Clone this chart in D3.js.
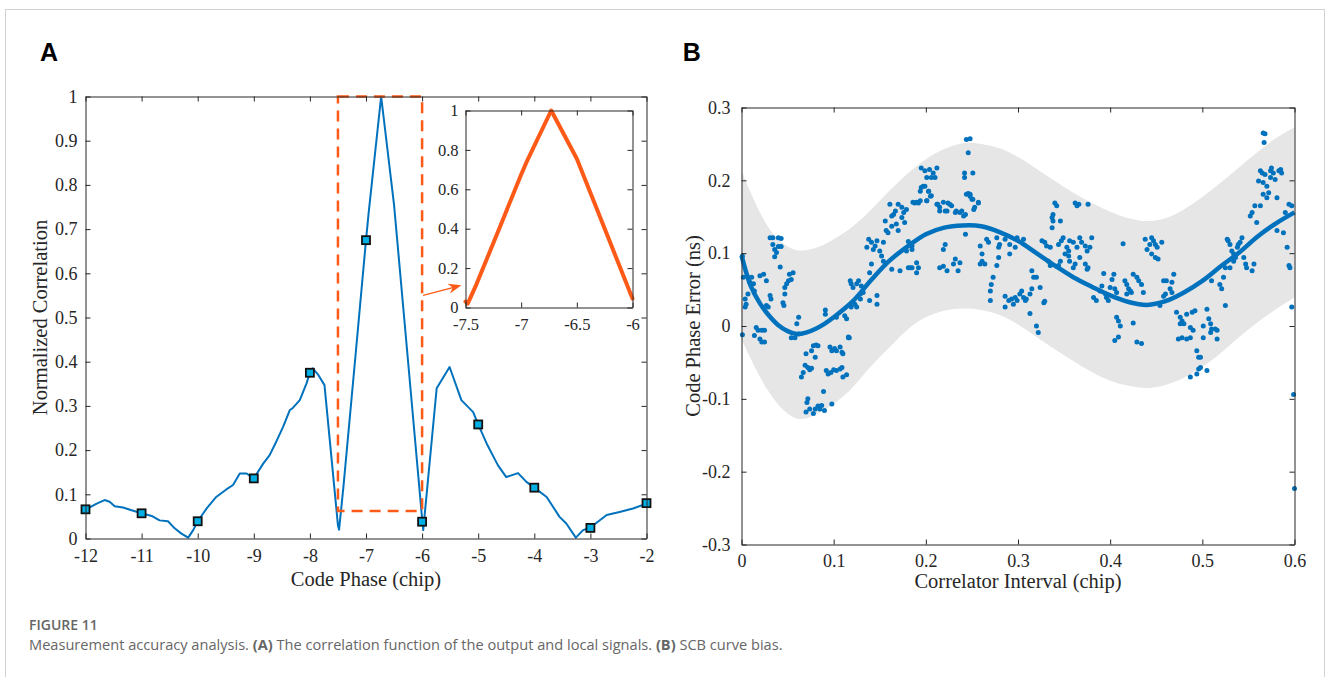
<!DOCTYPE html>
<html lang="en">
<head>
<meta charset="UTF-8">
<title>Figure 11 - Measurement accuracy analysis</title>
<script src="https://d3js.org/d3.v7.min.js"></script>
<style>
  body { margin: 0; background: #fff; }
  svg { display: block; }
  .axis path, .axis line { stroke: #262626; stroke-width: 1; }
  .title { font-family: "Liberation Serif", "Times New Roman", serif; font-size: 20.5px; fill: #262626; }
  .panel-tag { font-family: "Liberation Sans", Arial, sans-serif; font-size: 25px; font-weight: bold; fill: #000; }
  .caption { font-family: "Open Sans", "Noto Sans", sans-serif; fill: #666; }
</style>
</head>
<body>
<svg id="fig" width="1332" height="677"></svg>
<script>
  // ---- Panel A: correlation function (code phase in chips, normalized value)
  const corrPhase = [-12, -11.9, -11.8, -11.66, -11.57, -11.48, -11.33, -11.18, -11.0, -10.82, -10.68, -10.53,
    -10.41, -10.29, -10.17, -10.08, -10.0, -9.84, -9.67, -9.49, -9.37, -9.25, -9.13, -9.0, -8.83, -8.72,
    -8.6, -8.48, -8.36, -8.3, -8.18, -8.06, -8.0, -7.95, -7.85, -7.74, -7.5, -7.48, -7.4, -7.19, -7.0,
    -6.95, -6.73, -6.5, -6.32, -6.0, -5.98, -5.74, -5.51, -5.3, -5.09, -5.0, -4.85, -4.65, -4.5, -4.29,
    -4.14, -4.0, -3.78, -3.55, -3.43, -3.26, -3.13, -3.0, -2.71, -2.48, -2.24, -2.0];
  const corrValue = [0.066, 0.072, 0.079, 0.087, 0.083, 0.073, 0.070, 0.064, 0.057, 0.051, 0.041, 0.039,
    0.023, 0.011, 0.002, 0.019, 0.039, 0.068, 0.094, 0.111, 0.121, 0.147, 0.147, 0.136, 0.170, 0.188,
    0.219, 0.252, 0.290, 0.296, 0.313, 0.351, 0.375, 0.385, 0.370, 0.347, 0.030, 0.020, 0.120, 0.410, 0.675,
    0.740, 1.000, 0.755, 0.500, 0.045, 0.019, 0.340, 0.388, 0.313, 0.286, 0.258, 0.215, 0.166, 0.139, 0.148,
    0.128, 0.115, 0.094, 0.049, 0.034, 0.002, 0.019, 0.025, 0.053, 0.060, 0.068, 0.079];
  const markerPhase = [-12, -11, -10, -9, -8, -7, -6, -5, -4, -3, -2];
  const markerValue = [0.066, 0.057, 0.039, 0.136, 0.375, 0.675, 0.038, 0.258, 0.115, 0.024, 0.080];
  const zoomWindow = { x0: -7.5, x1: -6, y0: 0.0625, y1: 1 };
  const phaseTicks = [-12, -11, -10, -9, -8, -7, -6, -5, -4, -3, -2];
  const corrTicks = [0, 0.1, 0.2, 0.3, 0.4, 0.5, 0.6, 0.7, 0.8, 0.9, 1];
  const insetPhaseTicks = [-7.5, -7, -6.5, -6];
  const insetCorrTicks = [0, 0.2, 0.4, 0.6, 0.8, 1];

  // ---- Panel B: SCB curve bias (correlator interval in chips, error in ns)
  const fitX = [0, 0.01, 0.02, 0.03, 0.04, 0.05, 0.06, 0.07, 0.08, 0.09, 0.10, 0.12, 0.14, 0.16, 0.18, 0.20,
    0.22, 0.24, 0.26, 0.28, 0.30, 0.32, 0.34, 0.36, 0.38, 0.40, 0.42, 0.44, 0.46, 0.48, 0.50, 0.52, 0.54,
    0.56, 0.58, 0.60];
  const fitY = [0.097, 0.055, 0.031, 0.014, 0.001, -0.007, -0.011, -0.009, -0.004, 0.003, 0.012, 0.033,
    0.062, 0.089, 0.109, 0.126, 0.135, 0.138, 0.137, 0.129, 0.117, 0.100, 0.083, 0.067, 0.054, 0.042,
    0.033, 0.029, 0.034, 0.046, 0.062, 0.082, 0.101, 0.123, 0.141, 0.156];
  const bandUpper = [0.213, 0.183, 0.156, 0.134, 0.119, 0.109, 0.104, 0.104, 0.107, 0.112, 0.119, 0.136,
    0.159, 0.185, 0.209, 0.229, 0.243, 0.251, 0.250, 0.244, 0.232, 0.216, 0.199, 0.183, 0.169, 0.157,
    0.148, 0.144, 0.148, 0.160, 0.177, 0.197, 0.218, 0.239, 0.258, 0.273];
  const bandLower = [-0.018, -0.045, -0.070, -0.091, -0.108, -0.120, -0.127, -0.127, -0.122, -0.115,
    -0.107, -0.085, -0.056, -0.030, -0.005, 0.012, 0.021, 0.024, 0.022, 0.015, 0.002, -0.015, -0.032,
    -0.048, -0.063, -0.075, -0.082, -0.085, -0.081, -0.071, -0.056, -0.037, -0.015, 0.005, 0.023, 0.039];
  const intervalTicks = [0, 0.1, 0.2, 0.3, 0.4, 0.5, 0.6];
  const errorTicks = [-0.3, -0.2, -0.1, 0, 0.1, 0.2, 0.3];
  // measured samples [interval, error]
  const samples = [
    [0.001,0.096],[0.002,0.067],[0.007,0.067],[0.011,0.067],[0.009,0.060],[0.013,0.058],[0.020,0.069],[0.024,0.071],
    [0.027,0.062],[0.004,0.037],[0.005,0.030],[0.007,0.044],[0.014,0.048],[0.004,0.026],[0.001,-0.012],[0.031,0.042],
    [0.032,0.037],[0.029,0.026],[0.027,0.028],
    [0.031,0.121],[0.034,0.121],[0.040,0.121],[0.043,0.120],[0.034,0.112],[0.036,0.105],[0.040,0.109],[0.043,0.109],
    [0.038,0.101],[0.036,0.095],[0.042,0.081],
    [0.052,0.071],[0.054,0.064],[0.051,0.062],[0.049,0.058],[0.047,0.053],[0.056,0.073],[0.047,0.044],[0.045,0.032],[0.046,0.028],
    [0.016,-0.002],[0.018,-0.006],[0.022,-0.006],[0.025,-0.006],[0.014,-0.013],[0.020,-0.018],[0.022,-0.022],[0.025,-0.022],
    [0.062,0.012],[0.060,0.003],[0.054,-0.016],[0.058,-0.016],[0.062,-0.011],
    [0.070,-0.038],[0.078,-0.027],[0.081,-0.026],[0.083,-0.027],[0.080,-0.043],[0.076,-0.034],[0.065,-0.070],[0.067,-0.064],
    [0.069,-0.054],[0.072,-0.057],[0.074,-0.060],[0.076,-0.058],
    [0.071,-0.105],[0.072,-0.100],[0.070,-0.118],[0.074,-0.114],[0.078,-0.120],[0.080,-0.114],[0.083,-0.110],[0.085,-0.114],
    [0.087,-0.109],[0.090,-0.116],[0.089,-0.090],[0.098,-0.107],
    [0.097,-0.064],[0.094,-0.066],[0.092,-0.061],[0.100,-0.060],[0.103,-0.061],[0.107,-0.059],[0.109,-0.057],[0.110,-0.070],
    [0.114,-0.067],[0.116,-0.015],[0.117,-0.016],
    [0.096,-0.029],[0.098,-0.034],[0.101,-0.031],[0.103,-0.034],[0.107,-0.029],[0.109,-0.036],[0.110,-0.038],
    [0.091,0.022],[0.091,0.016],[0.103,0.012],[0.112,0.014],[0.114,0.010],[0.116,-0.016],
    [0.118,0.062],[0.119,0.058],[0.121,0.053],[0.125,0.058],[0.127,0.062],[0.129,0.044],[0.130,0.055],[0.132,0.046],
    [0.129,0.037],[0.123,0.030],[0.125,0.026],[0.119,0.026],[0.139,0.035],[0.147,0.042],[0.147,0.030],[0.139,0.073],
    [0.141,0.085],[0.152,0.096],[0.154,0.089],[0.136,0.108],[0.138,0.119],[0.141,0.115],[0.143,0.105],[0.147,0.117],
    [0.150,0.103],[0.145,0.110],[0.154,0.115],[0.163,0.078],[0.172,0.076],[0.181,0.080],[0.185,0.080],[0.190,0.087],
    [0.190,0.073],[0.181,0.116],[0.185,0.110],[0.185,0.105],[0.179,0.103],
    [0.156,0.144],[0.157,0.131],[0.159,0.128],[0.163,0.151],[0.165,0.153],[0.167,0.158],[0.170,0.167],[0.174,0.163],
    [0.176,0.156],[0.179,0.160],[0.161,0.167],[0.163,0.137],[0.168,0.140],[0.174,0.149],[0.177,0.142],[0.170,0.131],
    [0.188,0.169],[0.192,0.169],[0.195,0.190],[0.199,0.192],[0.203,0.185],[0.205,0.178],[0.201,0.172],[0.212,0.167],
    [0.215,0.163],[0.221,0.158],[0.224,0.169],[0.228,0.165],[0.232,0.156],[0.239,0.158],[0.243,0.153],[0.246,0.182],
    [0.248,0.178],[0.250,0.174],[0.252,0.160],[0.257,0.169],
    [0.195,0.217],[0.199,0.213],[0.204,0.215],[0.208,0.210],[0.212,0.217],[0.201,0.204],[0.206,0.204],[0.210,0.204],
    [0.197,0.192],[0.194,0.185],[0.203,0.185],[0.206,0.179],[0.244,0.256],[0.248,0.257],[0.246,0.238],[0.242,0.210],
    [0.251,0.210],[0.242,0.204],[0.244,0.181],[0.248,0.181],[0.251,0.174],[0.257,0.170],[0.253,0.163],[0.186,0.170],
    [0.190,0.170],[0.194,0.172],[0.201,0.172],[0.213,0.167],[0.219,0.170],[0.226,0.167],[0.233,0.158],[0.237,0.156],
    [0.241,0.151],[0.223,0.158],[0.215,0.158],
    [0.215,0.080],[0.219,0.082],[0.223,0.076],[0.230,0.085],[0.232,0.092],[0.235,0.076],[0.237,0.087],[0.219,0.105],
    [0.221,0.112],[0.192,0.080],[0.183,0.080],[0.259,0.085],[0.261,0.089],[0.264,0.085],[0.261,0.099],[0.259,0.110],
    [0.266,0.119],[0.268,0.115],[0.243,0.126],
    [0.277,0.121],[0.280,0.112],[0.279,0.108],[0.286,0.119],[0.291,0.112],[0.291,0.099],[0.297,0.108],[0.299,0.121],
    [0.306,0.119],[0.279,0.094],[0.277,0.083],[0.273,0.067],[0.271,0.057],[0.270,0.048],[0.270,0.035],[0.286,0.041],
    [0.290,0.035],[0.293,0.037],[0.297,0.039],[0.299,0.035],[0.302,0.044],[0.304,0.048],[0.306,0.039],[0.309,0.037],
    [0.313,0.044],[0.315,0.051],[0.308,0.035],[0.295,0.030],[0.286,0.026],[0.313,0.017],[0.315,0.076],[0.317,0.067],
    [0.320,0.067],[0.324,0.053],[0.328,0.032],[0.329,0.034],[0.320,0.000],[0.322,-0.009],[0.326,0.117],[0.329,0.115],
    [0.331,0.110],[0.335,0.108],[0.338,0.153],[0.337,0.149],[0.338,0.144],[0.340,0.169],[0.342,0.165],[0.337,0.135],
    [0.346,0.144],[0.344,0.112],[0.347,0.117],[0.349,0.121],[0.353,0.108],[0.356,0.117],[0.355,0.103],[0.360,0.115],
    [0.364,0.108],[0.367,0.121],[0.369,0.115],[0.373,0.110],[0.375,0.103],[0.378,0.108],[0.380,0.121],[0.351,0.099],
    [0.355,0.096],[0.356,0.089],[0.362,0.085],[0.367,0.094],[0.373,0.085],[0.375,0.078],[0.376,0.080],[0.360,0.080],
    [0.346,0.089],[0.344,0.083],[0.335,0.083],[0.333,0.089],[0.362,0.169],[0.364,0.165],[0.366,0.167],[0.376,0.167],
    [0.382,0.039],[0.385,0.035],[0.389,0.048],[0.391,0.055],[0.395,0.044],[0.396,0.039],[0.398,0.035],[0.393,0.072],
    [0.400,0.053],[0.402,0.064],[0.404,0.071],[0.405,0.051],[0.407,0.046],[0.407,0.012],[0.409,0.007],[0.411,0.000],
    [0.405,-0.020],[0.409,-0.015],[0.416,0.062],[0.418,0.057],[0.420,0.051],[0.422,0.048],[0.425,0.071],[0.429,0.067],
    [0.431,0.062],[0.434,0.057],[0.436,0.046],[0.418,0.044],[0.423,0.046],[0.414,0.113],[0.425,0.004],[0.429,-0.022],
    [0.434,-0.024],[0.438,0.119],[0.440,0.105],[0.443,0.112],[0.445,0.121],[0.447,0.117],[0.449,0.112],[0.451,0.108],
    [0.445,0.099],[0.449,0.094],[0.452,0.092],[0.456,0.115],
    [0.458,0.062],[0.461,0.062],[0.467,0.060],[0.469,0.071],[0.465,0.051],[0.467,0.046],[0.460,0.044],[0.458,0.041],
    [0.454,0.028],[0.472,0.019],[0.476,0.012],[0.478,0.007],[0.483,0.016],[0.489,0.019],[0.492,0.021],[0.476,0.003],
    [0.480,0.003],[0.487,-0.002],[0.490,-0.006],[0.474,-0.018],[0.478,-0.016],[0.483,-0.018],[0.487,-0.016],[0.494,-0.034],
    [0.496,-0.043],[0.498,-0.043],[0.498,-0.057],[0.496,-0.059],[0.494,-0.066],[0.487,-0.070],[0.505,0.023],[0.507,0.010],
    [0.509,0.003],[0.510,-0.004],[0.514,-0.004],[0.516,-0.006],[0.501,0.000],[0.501,-0.016],[0.509,-0.009],[0.516,-0.018],
    [0.505,-0.061],[0.525,0.028],
    [0.510,0.062],[0.519,0.057],[0.521,0.051],[0.525,0.080],[0.527,0.119],[0.528,0.117],[0.530,0.112],[0.532,0.103],
    [0.534,0.099],[0.538,0.108],[0.536,0.094],[0.539,0.112],[0.543,0.121],[0.545,0.094],[0.547,0.085],[0.548,0.080],
    [0.554,0.076],[0.556,0.085],[0.523,0.067],[0.530,0.080],[0.541,0.115],[0.534,0.089],[0.552,0.151],[0.554,0.156],
    [0.557,0.165],[0.559,0.142],[0.563,0.165],[0.561,0.199],[0.563,0.213],[0.565,0.210],[0.568,0.208],[0.566,0.197],
    [0.570,0.192],[0.574,0.213],[0.574,0.204],[0.575,0.217],[0.577,0.210],[0.579,0.201],[0.581,0.176],[0.583,0.213],
    [0.585,0.215],[0.586,0.210],[0.570,0.176],[0.566,0.181],[0.572,0.183],[0.581,0.131],[0.588,0.128],[0.590,0.156],
    [0.594,0.167],[0.597,0.165],[0.566,0.265],[0.568,0.264],[0.567,0.252],[0.592,0.108],[0.595,0.080],[0.594,0.083],
    [0.597,0.026],[0.599,-0.094],[0.600,-0.223]
  ];

  const blue = '#0072bd';
  const orange = '#fd5a17';
  const serif = '"Liberation Serif", "Times New Roman", serif';
  const fmt = d => String(+d.toFixed(2));

  const svg = d3.select('#fig');

  // page frame
  svg.append('rect')
    .attr('x', 5.5).attr('y', 9.5).attr('width', 1319).attr('height', 700)
    .attr('fill', 'none').attr('stroke', '#d2d2d2');

  // boxed axes with inward ticks on all four sides
  function boxAxes(g, x, y, xTicks, yTicks, xPad, yPad, fontSize) {
    const [b, t] = y.range();
    const [l, r] = x.range();
    g.append('g').attr('class', 'axis').attr('transform', `translate(0,${b})`)
      .call(d3.axisBottom(x).tickValues(xTicks).tickFormat(fmt).tickSizeInner(-5).tickSizeOuter(0).tickPadding(xPad));
    g.append('g').attr('class', 'axis').attr('transform', `translate(0,${t})`)
      .call(d3.axisTop(x).tickValues(xTicks).tickFormat('').tickSizeInner(-5).tickSizeOuter(0));
    g.append('g').attr('class', 'axis').attr('transform', `translate(${l},0)`)
      .call(d3.axisLeft(y).tickValues(yTicks).tickFormat(fmt).tickSizeInner(-5).tickSizeOuter(0).tickPadding(yPad));
    g.append('g').attr('class', 'axis').attr('transform', `translate(${r},0)`)
      .call(d3.axisRight(y).tickValues(yTicks).tickFormat('').tickSizeInner(-5).tickSizeOuter(0));
    g.selectAll('.axis').attr('font-family', null).attr('font-size', null);
    g.selectAll('.axis text')
      .style('font-family', serif)
      .style('font-size', fontSize + 'px')
      .style('fill', '#262626');
  }

  // ================= Panel A =================
  const gA = svg.append('g');
  const xA = d3.scaleLinear().domain([-12, -2]).range([85.5, 646.5]);
  const yA = d3.scaleLinear().domain([0, 1]).range([538.5, 96.5]);
  const corr = corrPhase.map((p, i) => [p, corrValue[i]]);

  gA.append('path')
    .datum(corr)
    .attr('fill', 'none').attr('stroke', blue).attr('stroke-width', 2)
    .attr('stroke-linejoin', 'round')
    .attr('d', d3.line().x(d => xA(d[0])).y(d => yA(d[1])));

  gA.selectAll('rect.marker')
    .data(markerPhase.map((p, i) => [p, markerValue[i]]))
    .join('rect').attr('class', 'marker')
    .attr('x', d => xA(d[0]) - 4).attr('y', d => yA(d[1]) - 4)
    .attr('width', 8).attr('height', 8)
    .attr('fill', '#00b0e4').attr('stroke', '#111').attr('stroke-width', 1.8);

  // zoom window
  gA.append('rect')
    .attr('x', xA(zoomWindow.x0)).attr('y', yA(zoomWindow.y1))
    .attr('width', xA(zoomWindow.x1) - xA(zoomWindow.x0))
    .attr('height', yA(zoomWindow.y0) - yA(zoomWindow.y1))
    .attr('fill', 'none').attr('stroke', orange).attr('stroke-width', 2.5)
    .attr('stroke-dasharray', '11,7');

  boxAxes(gA, xA, yA, phaseTicks, corrTicks, 11, 8, 18);

  // arrow to inset
  const ax0 = xA(-6) + 1, ay0 = yA(0.55), ax1 = xA(-5.3), ay1 = yA(0.573);
  const ang = Math.atan2(ay1 - ay0, ax1 - ax0);
  gA.append('line')
    .attr('x1', ax0).attr('y1', ay0).attr('x2', ax1 - 8 * Math.cos(ang)).attr('y2', ay1 - 8 * Math.sin(ang))
    .attr('stroke', orange).attr('stroke-width', 1.3);
  gA.append('path')
    .attr('d', `M0,0 L-13,-5 L-9,0 L-13,5 Z`)
    .attr('transform', `translate(${ax1},${ay1}) rotate(${ang * 180 / Math.PI})`)
    .attr('fill', orange);

  // inset
  const gI = svg.append('g').attr('class', 'inset');
  const xI = d3.scaleLinear().domain([-7.5, -6]).range([465.5, 632.5]);
  const yI = d3.scaleLinear().domain([0, 1]).range([307.5, 110.5]);
  gI.append('rect').attr('x', 465.5).attr('y', 110.5).attr('width', 167).attr('height', 197).attr('fill', '#fff');
  gI.append('path')
    .datum(corr.filter(d => d[0] >= -7.5 && d[0] <= -6))
    .attr('fill', 'none').attr('stroke', orange).attr('stroke-width', 4)
    .attr('stroke-linejoin', 'round').attr('stroke-linecap', 'round')
    .attr('d', d3.line().x(d => xI(d[0])).y(d => yI(d[1])));
  boxAxes(gI, xI, yI, insetPhaseTicks, insetCorrTicks, 11, 7, 16.5);

  gA.append('text').attr('class', 'title').attr('text-anchor', 'middle')
    .attr('x', (xA.range()[0] + xA.range()[1]) / 2).attr('y', 586).text('Code Phase (chip)');
  gA.append('text').attr('class', 'title').attr('text-anchor', 'middle')
    .attr('transform', `translate(46.7,${(yA.range()[0] + yA.range()[1]) / 2}) rotate(-90)`)
    .text('Normalized Correlation');
  svg.append('text').attr('class', 'panel-tag').attr('x', 40).attr('y', 60.5).text('A');

  // ================= Panel B =================
  const gB = svg.append('g');
  const xB = d3.scaleLinear().domain([0, 0.6]).range([741.5, 1294.5]);
  const yB = d3.scaleLinear().domain([-0.3, 0.3]).range([544.5, 107.5]);
  const band = fitX.map((x, i) => ({ x, lo: bandLower[i], hi: bandUpper[i] }));

  gB.append('path')
    .datum(band)
    .attr('fill', '#e6e6e6')
    .attr('d', d3.area().curve(d3.curveCatmullRom)
      .x(d => xB(d.x)).y0(d => yB(d.lo)).y1(d => yB(d.hi)));

  gB.selectAll('circle')
    .data(samples)
    .join('circle')
    .attr('cx', d => xB(d[0])).attr('cy', d => yB(d[1])).attr('r', 2.5)
    .attr('fill', blue);

  gB.append('path')
    .datum(fitX.map((x, i) => [x, fitY[i]]))
    .attr('fill', 'none').attr('stroke', blue).attr('stroke-width', 4.5)
    .attr('d', d3.line().curve(d3.curveCatmullRom).x(d => xB(d[0])).y(d => yB(d[1])));

  boxAxes(gB, xB, yB, intervalTicks, errorTicks, 10, 11, 18);

  gB.append('text').attr('class', 'title').attr('text-anchor', 'middle')
    .attr('x', (xB.range()[0] + xB.range()[1]) / 2).attr('y', 588).text('Correlator Interval (chip)');
  gB.append('text').attr('class', 'title').attr('text-anchor', 'middle')
    .attr('transform', `translate(700,${(yB.range()[0] + yB.range()[1]) / 2}) rotate(-90)`)
    .text('Code Phase Error (ns)');
  svg.append('text').attr('class', 'panel-tag').attr('x', 682.7).attr('y', 60.7).text('B');

  // ================= Caption =================
  svg.append('text').attr('class', 'caption')
    .attr('x', 29).attr('y', 630).attr('font-size', 14).attr('font-weight', 600)
    .attr('fill', '#5a5a5a').text('FIGURE 11');
  const cap = svg.append('text').attr('class', 'caption')
    .attr('x', 29).attr('y', 650).attr('font-size', 15);
  cap.append('tspan').text('Measurement accuracy analysis. ');
  cap.append('tspan').attr('font-weight', 'bold').text('(A)');
  cap.append('tspan').text(' The correlation function of the output and local signals. ');
  cap.append('tspan').attr('font-weight', 'bold').text('(B)');
  cap.append('tspan').text(' SCB curve bias.');
  // fit caption width to the reference line length
  const len = cap.node().getComputedTextLength();
  cap.attr('font-size', 15 * 754 / len);
</script>
</body>
</html>
